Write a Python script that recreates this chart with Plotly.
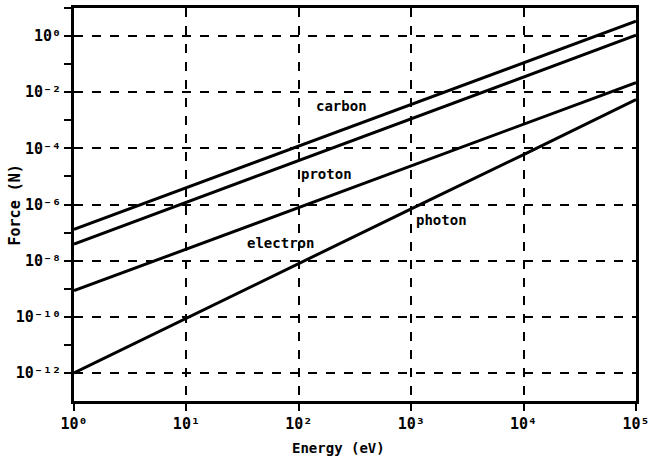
import math
import plotly.graph_objects as go

# Data (log-log, straight lines)
energy = [1, 10, 100, 1000, 1e4, 1e5]
carbon = [1.3e-7, 4.0e-6, 1.2e-4, 3.7e-3, 0.11, 3.4]
proton = [3.9e-8, 1.2e-6, 3.7e-5, 1.1e-3, 3.5e-2, 1.07]
electron = [8.5e-10, 2.6e-8, 7.8e-7, 2.3e-5, 7.2e-4, 2.2e-2]
photon = [1e-12, 9e-11, 8e-9, 7e-7, 6e-5, 5.5e-3]

series_names = ["carbon", "proton", "electron", "photon"]
series_vals = [carbon, proton, electron, photon]
label_x = [240, 178, 69, 1850]
label_y = [3.2e-3, 1.25e-5, 4.2e-8, 2.9e-7]

x_tickvals = [1, 10, 100, 1000, 1e4, 1e5]
x_ticktext = ["10⁰", "10¹", "10²", "10³", "10⁴", "10⁵"]
y_tickvals = [1, 1e-2, 1e-4, 1e-6, 1e-8, 1e-10, 1e-12]
y_ticktext = ["10⁰", "10⁻²", "10⁻⁴", "10⁻⁶", "10⁻⁸", "10⁻¹⁰", "10⁻¹²"]
y_minor = [10, 1e-1, 1e-3, 1e-5, 1e-7, 1e-9, 1e-11]

FONT = "DejaVu Sans Mono"

fig = go.Figure()
for name, vals in zip(series_names, series_vals):
    fig.add_trace(go.Scatter(x=energy, y=vals, mode="lines", name=name,
                             line=dict(color="black", width=3), showlegend=False))

# annotations on log axes take log10 positions
for name, lx, ly in zip(series_names, label_x, label_y):
    fig.add_annotation(x=math.log10(lx), y=math.log10(ly), xref="x", yref="y",
                       text=name, showarrow=False,
                       font=dict(family=FONT, size=14, color="black", weight="bold"),
                       xanchor="center", yanchor="middle")

fig.add_annotation(x=0.47, y=-0.095, xref="paper", yref="paper", text="Energy (eV)",
                   showarrow=False, xanchor="center", yanchor="top",
                   font=dict(family=FONT, size=14, color="black", weight="bold"))
fig.add_annotation(x=-0.105, y=0.5, xref="paper", yref="paper", text="Force (N)",
                   showarrow=False, textangle=-90, xanchor="center", yanchor="middle",
                   font=dict(family=FONT, size=15, color="black", weight="bold"))

axis_common = dict(showline=True, linecolor="black", linewidth=3, mirror=True,
                   ticks="outside", tickcolor="black", tickwidth=2, ticklen=7,
                   showgrid=True, gridcolor="black", gridwidth=1.6, griddash="dash",
                   zeroline=False,
                   tickfont=dict(family=FONT, size=15, color="black", weight="bold"))

fig.update_xaxes(type="log", range=[0, 5], tickmode="array",
                 tickvals=x_tickvals, ticktext=x_ticktext, **axis_common)
fig.update_yaxes(type="log", range=[-13, 1], tickmode="array",
                 tickvals=y_tickvals, ticktext=y_ticktext,
                 minor=dict(tickmode="array", tickvals=y_minor, ticks="outside",
                            ticklen=7, tickwidth=2, tickcolor="black", showgrid=False),
                 **axis_common)

fig.update_layout(width=657, height=457, margin=dict(l=74, r=21, t=5, b=56),
                  plot_bgcolor="white", paper_bgcolor="white")

fig.write_html("out.html", config={"displayModeBar": False},
               post_script="document.body.style.margin='0';document.body.style.overflow='hidden';")
